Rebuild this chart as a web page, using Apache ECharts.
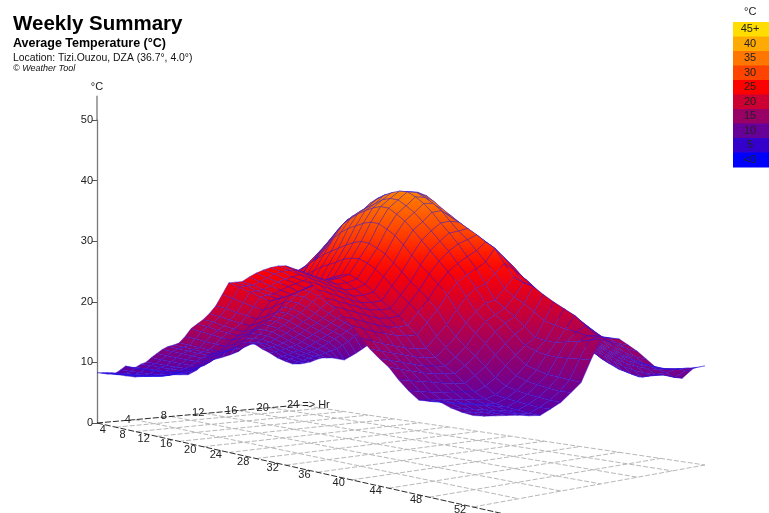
<!DOCTYPE html>
<html><head><meta charset="utf-8">
<style>html,body{margin:0;padding:0;background:#fff}#c{width:769px;height:513px}</style>
<script src="https://cdn.jsdelivr.net/npm/echarts@6/dist/echarts.min.js"></script></head>
<body><div id="c"></div>
<script>
const t00=[8.3,8.4,8.5,8.6,8.7,9.3,10,9.9,10,10.6,11,11.8,12.5,13.2,13.7,14,14.4,15.4,16.6,17.3,18,18.9,20,21.6,23.2,23.3,23.4,24,24.5,24.9,25.2,25.4,25.4,24.9,24.2,23.4,22.4,21.4,20.4,19.2,18.2,16.8,15.6,14.6,13.7,12.4,11.3,10.4,10.4,10.5,10,9.7,9.5];
const t01=[8,8.2,8.2,8.3,8.5,9,9.6,9.6,9.7,10.3,10.7,11.4,12.1,12.8,13.3,13.6,14,15,16.1,16.9,17.6,18.4,19.6,21,22.6,22.8,22.9,23.4,23.9,24.4,24.7,24.9,24.9,24.4,23.7,22.9,22,21,20,18.9,17.8,16.4,15.3,14.3,13.4,12.2,11.1,10.3,10.2,10.2,9.8,9.5,9.3];
const t02=[7.8,8,8,8.1,8.3,8.7,9.3,9.3,9.4,9.9,10.3,11,11.7,12.4,12.9,13.2,13.6,14.5,15.6,16.3,17,17.9,19,20.4,21.9,22.1,22.3,22.8,23.3,23.7,24,24.3,24.4,23.9,23.2,22.4,21.5,20.6,19.6,18.5,17.4,16,15,14,13.1,12,10.9,10.2,10,10,9.6,9.4,9.2];
const t03=[7.5,7.7,7.8,7.9,8.1,8.4,9,9,9.1,9.6,10,10.6,11.3,12,12.5,12.8,13.2,14.1,15.1,15.9,16.5,17.4,18.5,19.8,21.2,21.5,21.7,22.2,22.7,23.1,23.5,23.8,23.9,23.4,22.7,22,21.1,20.2,19.2,18.1,17.1,15.7,14.7,13.7,12.8,11.8,10.8,10.1,9.8,9.8,9.4,9.2,9.1];
const t04=[7.2,7.5,7.6,7.7,7.9,8.2,8.7,8.8,8.9,9.3,9.7,10.3,11,11.6,12.1,12.5,12.9,13.7,14.7,15.4,16.1,17,18,19.3,20.6,21,21.2,21.6,22,22.5,23,23.4,23.5,23,22.3,21.5,20.7,19.8,18.8,17.8,16.8,15.4,14.4,13.4,12.6,11.6,10.7,10,9.6,9.6,9.2,9.1,9];
const t05=[7.2,7.4,7.5,7.6,7.8,8.1,8.6,8.7,8.8,9.3,9.7,10.3,11,11.7,12.2,12.6,13.1,14,15,15.7,16.4,17.4,18.4,19.8,21,21.4,21.8,22.2,22.6,23,23.4,23.7,23.8,23.2,22.4,21.6,20.7,19.8,18.8,17.7,16.7,15.2,14.2,13.3,12.5,11.5,10.6,9.9,9.5,9.4,9.1,8.9,8.8];
const t06=[7.2,7.3,7.4,7.6,7.9,8.2,8.7,8.9,9,9.6,10,10.6,11.3,12,12.6,13,13.6,14.6,15.6,16.3,17.1,18,19,20.4,21.5,22,22.5,22.9,23.2,23.6,24,24.2,24.3,23.7,23,22,20.9,19.9,19,17.9,16.8,15.2,14.2,13.2,12.4,11.4,10.5,9.8,9.4,9.2,9,8.8,8.7];
const t07=[7.2,7.3,7.6,7.9,8.3,8.7,9.3,9.6,9.8,10.4,10.9,11.6,12.4,13.2,13.9,14.5,15.2,16.2,17.3,18.1,19,20,21,22.5,23.8,24.4,24.9,25.4,25.7,26,26.4,26.5,26.4,25.8,25,24,22.8,21.6,20.6,19.5,18.3,16.6,15.3,14.2,13.3,12.2,11.1,10.2,9.9,9.7,9.5,9.3,9.3];
const t08=[7.2,7.4,7.8,8.2,8.8,9.3,10,10.5,10.8,11.5,12,12.8,13.6,14.6,15.4,16.2,17,18,19,20,20.8,22,23.1,24.6,26,26.6,27.2,27.6,28,28.4,28.7,28.8,28.5,27.8,27,25.8,24.6,23.3,22.3,21.1,19.8,18,16.6,15.4,14.4,13.2,12,11.1,10.7,10.4,10.2,10,9.9];
const t09=[7.1,7.5,8.2,8.9,9.6,10.4,11.2,11.8,12.3,13.1,13.7,14.6,15.5,16.6,17.6,18.5,19.3,20.4,21.4,22.2,22.8,24,25,26,27,28.2,29.5,30.3,30.8,31.1,31.4,31.5,31.2,30.4,29.5,28.2,26.8,25.5,24.3,23,21.7,19.8,18.2,17,15.8,14.5,13.3,12.2,11.7,11.4,11.1,10.9,10.9];
const t10=[7,8,9,9.9,10.8,11.6,12.5,13.2,13.9,14.8,15.5,16.4,17.4,18.6,19.6,20.6,21.5,22.4,23.3,23.9,24.5,25.6,26.7,27.9,29.1,30.4,31.6,32.3,32.9,33.3,33.6,33.7,33.4,32.5,31.5,30.2,28.8,27.4,26,24.6,23.2,21.4,19.6,18.4,17.2,15.8,14.5,13.4,12.9,12.5,12.3,12.1,11.9];
const t11=[7.7,9,10.2,11.1,12.1,13,14,14.8,15.6,16.5,17.2,18.2,19.2,20.4,21.4,22.4,23.3,24.2,25,25.5,26,27.2,28.6,29.8,31,32,32.8,33.4,33.9,34.3,34.8,34.9,34.6,33.7,32.7,31.4,30.1,28.7,27.3,25.7,24.2,22.5,20.6,19.2,18.2,16.9,15.6,15,14.6,14.4,14.4,14.4,14.4];
const t12=[8.9,10,11.2,12.2,13.2,14.1,15.1,15.9,16.7,17.6,18.4,19.4,20.4,21.6,22.6,23.5,24.4,25.2,25.9,27,28,29,30,31.3,32.5,33,33.4,34.2,35.1,35.6,35.9,36,35.8,35,34,32.7,31.2,29.8,28.3,26.6,25,23,21,20,19,17.8,16.5,16.2,16,16.2,16.3,16.5,16.7];
const t13=[9.4,10.7,11.9,12.9,13.8,14.8,15.7,16.5,17.3,18.2,19,20,21,22.1,23,23.8,24.5,25.7,26.9,28.2,29.5,30.7,31.8,32.5,33.2,34,34.9,35.5,35.9,36,36,36,35.8,35,34.1,33,31.5,30.1,28.9,27.4,25.9,24.4,22.5,21.4,20.6,19.6,18.5,18,17.6,17.3,16.9,16.8,16.8];
const t14=[9.7,11,12.2,13.2,14.1,15,16,16.8,17.5,18.4,19.2,20.2,21.2,22.2,23.2,24.2,25.1,26,27,27.8,28.7,29.8,31,32,33,34.2,35.2,35.5,35.8,35.9,36,36,35.3,34,33,32.2,31.4,30.5,29.6,28.6,27.7,25.7,23.9,23.2,22.7,21.7,20.8,20,19.2,18,16.9,16.7,16.6];
const t15=[10.1,11.3,12.4,13.3,14.2,15,15.9,16.7,17.4,18.2,19,20,21,22,23,24,24.9,25.9,26.8,27.7,28.6,29.7,30.8,31.9,33,34.2,35.1,35.4,35.6,35.7,35.7,35.6,34.6,33.5,32.5,31.5,30.5,29.6,28.7,27.8,26.5,25,23.2,22.3,21.6,20.6,19.7,19,18.2,17.2,16.3,16,15.8];
const t16=[10.6,11.4,12.4,13.2,14,14.8,15.6,16.4,17.1,17.9,18.7,19.7,20.7,21.6,22.6,23.5,24.5,25.4,26.3,27.1,28,29.1,30.2,31.2,32.3,33.4,34.5,34.8,35.1,35.1,35,34,33.2,32.2,31.3,30.3,29.3,28.5,27.6,26.6,25.4,24,22.8,21.6,20.6,19.6,18.7,18,17.3,16.4,15.7,15.3,15];
const t17=[12.2,12,12.4,13,13.7,14.4,15.1,15.8,16.5,17.3,18,18.9,19.9,20.8,21.7,22.6,23.5,24.4,25.2,26,26.8,27.8,28.9,29.9,31,32,33,33.3,33.6,33.6,33.5,33,32,31,30,29,28,27.2,26.3,25.2,24,22.8,21.6,20.4,19.4,18.3,17.4,16.7,16,15.3,14.7,14.2,14];
const t18=[11.9,12,12.1,12.4,13,13.6,14.2,14.9,15.6,16.4,17,17.9,18.8,19.7,20.6,21.4,22.3,23.2,24,24.7,25.5,26.5,27.6,28.6,29.6,30.5,31.3,31.7,32,32.1,32,31.7,31,30,29,28,27,26.2,25.2,24,23,21.8,20.5,19.3,18.2,17.1,16.2,15.5,14.9,14.3,13.8,13.3,13];
const t19=[10.9,11.2,11.4,11.8,12.3,12.8,13.4,14.1,14.8,15.5,16.2,17,17.9,18.8,19.6,20.4,21.3,22.2,23,23.7,24.4,25.4,26.4,27.3,28.2,29,29.8,30.2,30.4,30.6,30.6,30.4,29.9,29,28,27,26,25.1,24,22.8,21.7,20.4,19,18,17,16,15.2,14.5,14,13.6,13.2,12.9,12.7];
const t20=[10.1,10.4,10.7,11.1,11.5,12,12.6,13.3,14,14.7,15.4,16.2,17,17.9,18.7,19.5,20.4,21.2,22,22.7,23.4,24.3,25.2,26.1,27,27.8,28.5,29,29.2,29.4,29.4,29.2,28.8,28,27.1,26,25,24,22.8,21.6,20.3,18.8,17.4,16.5,15.7,14.9,14.2,13.6,13.2,12.9,12.7,12.5,12.5];
const t21=[9.1,9.5,9.9,10.4,10.8,11.2,11.8,12.5,13.2,13.9,14.6,15.4,16.2,17,17.8,18.6,19.5,20.3,21,21.7,22.4,23.3,24.2,25,25.8,26.6,27.3,27.8,28,28.2,28.2,28.1,27.7,26.9,26,25,24,22.9,21.7,20.4,19,17.5,16,15.2,14.5,13.8,13.2,12.7,12.4,12.2,12.2,12.4,12.5];
const t22=[8.4,8.9,9.3,9.8,10.2,10.6,11.1,11.8,12.5,13.2,13.9,14.7,15.4,16.2,17,17.8,18.7,19.5,20.2,20.9,21.6,22.5,23.3,24.1,24.9,25.6,26.3,26.8,27,27.2,27.3,27.2,26.8,26,25.1,24.1,23,21.8,20.6,19.2,17.8,16.2,14.9,14,13.4,12.7,12.1,11.7,11.4,11.4,11.7,12.3,12.5];
const t23=[7.8,8.3,8.7,9.2,9.6,9.9,10.4,10.8,11.3,12,12.8,13.7,14.5,15.3,16,16.8,17.6,18.4,19.2,19.9,20.6,21.5,22.4,23.2,24,24.7,25.3,25.8,26.1,26.3,26.4,26.3,25.9,25.1,24.2,23.2,22,20.8,19.5,18,16.4,14.9,13.8,12.8,12.2,11.5,11,10.7,11,11.2,11,12,12.5];
const t24=[7.7,8,8.3,8.8,9.2,9.3,9.4,9.3,9.2,9.9,10.6,11.4,12.2,13.2,14,14.8,15.6,16.4,17.2,18,18.8,19.8,20.8,21.8,23,23.8,24.4,24.8,25.2,25.4,25.5,25.4,25.1,24.4,23.5,22.3,21,19.6,18.2,16.6,15,13.6,12.9,12,11.3,10.9,10.5,10.8,11.1,11,10.8,12.2,12.6];
const temps=[t00,t01,t02,t03,t04,t05,t06,t07,t08,t09,t10,t11,t12,t13,t14,t15,t16,t17,t18,t19,t20,t21,t22,t23,t24];
const hourTicks=[4,8,12,16,20,24];
const weekTicks=[4,8,12,16,20,24,28,32,36,40,44,48,52];
const legendLabels=['45+','40','35','30','25','20','15','10','5','<0'];
const legendColors=['#FFDD00','#FFAA00','#FF7700','#FF4400','#FF0000','#CC0033','#990066','#660099','#3300CC','#0000FF'];
const scaleTemps=[45,40,35,30,25,20,15,10,5,0];

const WMAX=52,HMAX=24;
const P0=[97,423],P1=[473,507],P2=[705,465],P3=[300,405];
const sx=P0[0]-P1[0]+P2[0]-P3[0],sy=P0[1]-P1[1]+P2[1]-P3[1];
const dx1=P1[0]-P2[0],dy1=P1[1]-P2[1],dx2=P3[0]-P2[0],dy2=P3[1]-P2[1];
const det=dx1*dy2-dx2*dy1;
const G=(sx*dy2-dx2*sy)/det,H=(dx1*sy-sx*dy1)/det;
const A=P1[0]-P0[0]+G*P1[0],B=P3[0]-P0[0]+H*P3[0];
const D=P1[1]-P0[1]+G*P1[1],E=P3[1]-P0[1]+H*P3[1];
function depth(w,h){return 1+G*w/WMAX+H*h/HMAX;}
function project(api,w,h,t){
  const u=w/WMAX,v=h/HMAX,d=depth(w,h);
  const lift=api.coord([0,0])[1]-api.coord([0,t])[1];
  return [(A*u+B*v+P0[0])/d,(D*u+E*v+P0[1]-lift)/d];
}
function hex(c){return [1,3,5].map(i=>parseInt(c.substr(i,2),16));}
function colorOf(t){
  t=Math.max(0,Math.min(45,t));
  const i=Math.min(8,Math.floor((45-t)/5));
  const k=(scaleTemps[i]-t)/5,a=hex(legendColors[i]),b=hex(legendColors[i+1]);
  return 'rgb('+a.map((x,j)=>Math.round(x+(b[j]-x)*k)).join(',')+')';
}
const cells=[];
for(let h=0;h<HMAX;h++)for(let w=0;w<WMAX;w++)cells.push([w,h]);
cells.sort((p,q)=>depth(q[0]+.5,q[1]+.5)-depth(p[0]+.5,p[1]+.5));

function renderCell(params,api){
  const w=api.value(0),h=api.value(1);
  const corners=[[w,h],[w+1,h],[w+1,h+1],[w,h+1]];
  const pts=corners.map(c=>project(api,c[0],c[1],temps[c[1]][c[0]]));
  const ts=corners.map(c=>temps[c[1]][c[0]]);
  let top=0,bot=0;
  pts.forEach((p,k)=>{if(p[1]<pts[top][1])top=k;if(p[1]>pts[bot][1])bot=k;});
  const fill=new echarts.graphic.LinearGradient(0,pts[top][1],0,Math.max(pts[bot][1],pts[top][1]+.5),[
    {offset:0,color:colorOf(ts[top])},{offset:1,color:colorOf(ts[bot])}],true);
  return {type:'polygon',shape:{points:pts},style:{fill:fill,stroke:'rgba(30,20,235,0.72)',lineWidth:.5}};
}
const floorLines=[];
weekTicks.forEach(w=>floorLines.push([w,0,w,HMAX,0]));
hourTicks.forEach(h=>floorLines.push([0,h,WMAX,h,0]));
floorLines.push([0,0,55,0,1]);floorLines.push([0,0,0,HMAX,1]);
function renderLine(params,api){
  const a=project(api,api.value(0),api.value(1),0),b=project(api,api.value(2),api.value(3),0);
  const axis=api.value(4)===1;
  return {type:'line',shape:{x1:a[0],y1:a[1],x2:b[0],y2:b[1]},
    style:{stroke:axis?'#2a2a2a':'#b8b8b8',lineWidth:1,lineDash:axis?[6,2]:[5,2]}};
}
const floorLabels=weekTicks.map(w=>[w,0,String(w),-13,3]).concat(hourTicks.map(h=>[0,h,String(h),-7,0]));
floorLabels.push([0,HMAX,'=> Hr',16,0]);
function renderLabel(params,api){
  const p=project(api,api.value(0),api.value(1),0);
  return {type:'text',x:p[0]+api.value(3),y:p[1]+api.value(4),
    style:{text:floorLabels[params.dataIndex][2],fill:'#222',font:'11px "Liberation Sans",Arial',align:'center',verticalAlign:'middle'}};
}
function renderStub(params,api){
  const a=project(api,0,0,50),b=project(api,0,0,54);
  return {type:'line',shape:{x1:a[0],y1:a[1],x2:b[0],y2:b[1]},style:{stroke:'#777',lineWidth:1.3}};
}
const font='"Liberation Sans",Arial,sans-serif';
const legendH=14.5;
const legendGraphics=[{type:'text',left:744,top:6,style:{text:'°C',fill:'#222',font:'11px '+font}}];
legendLabels.forEach((l,i)=>{
  legendGraphics.push({type:'rect',shape:{x:733,y:22+i*legendH,width:36,height:legendH+.5},style:{fill:legendColors[i]}});
  legendGraphics.push({type:'text',x:750,y:22+i*legendH+legendH/2,style:{text:l,fill:'#222',font:'11px '+font,align:'center',verticalAlign:'middle'}});
});
const chart=echarts.init(document.getElementById('c'),null,{renderer:'canvas'});
chart.setOption({
  animation:false,backgroundColor:'#fff',
  title:[
    {text:'Weekly Summary',left:13,top:14,padding:0,textStyle:{fontFamily:font,fontSize:20.5,fontWeight:'bold',color:'#000'}},
    {text:'Average Temperature (°C)',left:13,top:37,padding:0,textStyle:{fontFamily:font,fontSize:12.5,fontWeight:'bold',color:'#000'}},
    {text:'Location: Tizi.Ouzou, DZA (36.7°, 4.0°)',left:13,top:53,padding:0,textStyle:{fontFamily:font,fontSize:10.4,fontWeight:'normal',color:'#111'}},
    {text:'© Weather Tool',left:13,top:64,padding:0,textStyle:{fontFamily:font,fontSize:9,fontStyle:'italic',fontWeight:'normal',color:'#111'}}
  ],
  grid:{left:97,top:120,width:600,height:303,containLabel:false},
  xAxis:{type:'value',min:0,max:1,show:false},
  yAxis:{type:'value',min:0,max:50,interval:10,splitLine:{show:false},
    name:'°C',nameLocation:'end',nameGap:28,nameTextStyle:{fontFamily:font,fontSize:11,color:'#222'},
    axisLine:{show:true,lineStyle:{color:'#777',width:1.3}},axisTick:{show:true,length:5,lineStyle:{color:'#555'}},
    axisLabel:{fontFamily:font,fontSize:11,color:'#222',margin:4}},
  graphic:legendGraphics,
  series:[
    {type:'custom',coordinateSystem:'cartesian2d',data:floorLines,renderItem:renderLine,silent:true,z:1,clip:false},
    {type:'custom',coordinateSystem:'cartesian2d',data:floorLabels.map(r=>[r[0],r[1],0,r[3],r[4]]),renderItem:renderLabel,silent:true,z:2,clip:false},
    {type:'custom',coordinateSystem:'cartesian2d',data:[[0]],renderItem:renderStub,silent:true,z:2,clip:false},
    {type:'custom',coordinateSystem:'cartesian2d',data:cells,renderItem:renderCell,silent:true,z:3,clip:false,progressive:0}
  ]
});
</script></body></html>
